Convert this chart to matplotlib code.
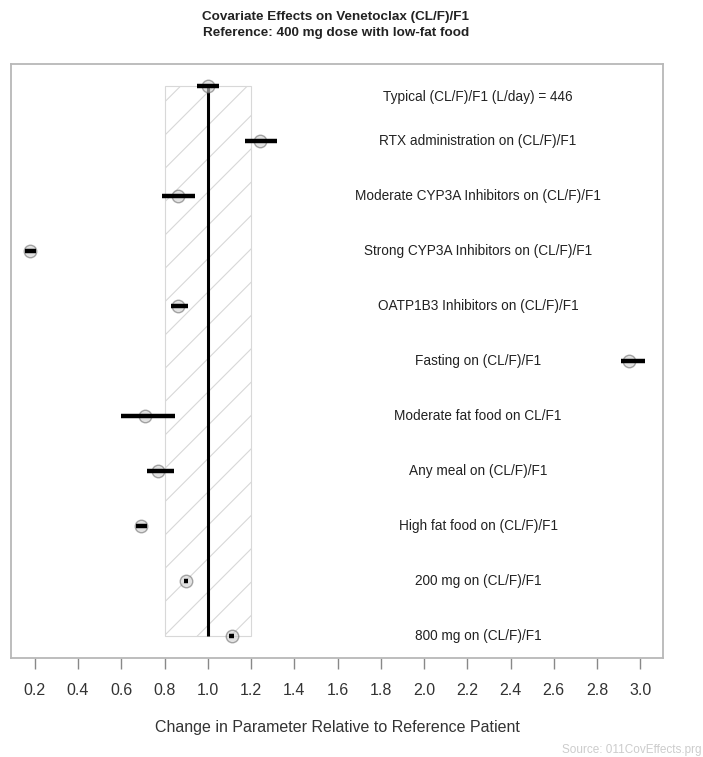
import matplotlib
matplotlib.use("Agg")
import matplotlib.pyplot as plt
from matplotlib.patches import Rectangle

plt.rcParams['font.family'] = ['Liberation Sans', 'DejaVu Sans']
plt.rcParams['hatch.color'] = '#d4d4d4'
plt.rcParams['hatch.linewidth'] = 0.8

labels = [
    "Typical (CL/F)/F1 (L/day) = 446",
    "RTX administration on (CL/F)/F1",
    "Moderate CYP3A Inhibitors on (CL/F)/F1",
    "Strong CYP3A Inhibitors on (CL/F)/F1",
    "OATP1B3 Inhibitors on (CL/F)/F1",
    "Fasting on (CL/F)/F1",
    "Moderate fat food on CL/F1",
    "Any meal on (CL/F)/F1",
    "High fat food on (CL/F)/F1",
    "200 mg on (CL/F)/F1",
    "800 mg on (CL/F)/F1",
]
estimates = [1.00, 1.24, 0.86, 0.18, 0.86, 2.95, 0.71, 0.77, 0.69, 0.90, 1.11]
lower = [0.95, 1.17, 0.79, 0.155, 0.83, 2.91, 0.60, 0.72, 0.67, 0.89, 1.10]
upper = [1.05, 1.32, 0.94, 0.205, 0.91, 3.02, 0.85, 0.845, 0.72, 0.91, 1.12]
ref_low, ref_high = 0.8, 1.2
xticks = [0.2, 0.4, 0.6, 0.8, 1.0, 1.2, 1.4, 1.6, 1.8, 2.0, 2.2, 2.4, 2.6, 2.8, 3.0]

fig = plt.figure(figsize=(7.03, 7.57), dpi=100)
ax = fig.add_axes([11/703, 1 - 658/757, (663 - 11)/703, (658 - 64)/757])

n = len(labels)
rows = list(range(n))

# reference band
ax.add_patch(Rectangle((ref_low, 0), ref_high - ref_low, n - 1,
                       facecolor='none', edgecolor='#d8d8d8', hatch='/',
                       linewidth=0.8, zorder=1))
# reference line
ax.plot([1.0, 1.0], [0, n - 1], color='black', lw=2.2, zorder=2,
        solid_capstyle='butt')

for i in rows:
    ax.plot(estimates[i], i, marker='o', ms=9, mfc='#d0d0d0', mec='#707070',
            mew=1.0, alpha=0.6, zorder=3)
    ax.plot([lower[i], upper[i]], [i, i], color='black', lw=3.2,
            solid_capstyle='butt', zorder=4)
    dy = 0.2 if i == 0 else 0.0
    ax.text(2.25, i + dy, labels[i], ha='center', va='center', fontsize=9.8,
            color='#222222', zorder=5)

ax.set_xlim(0.09, 3.105)
ax.set_ylim(n - 1 + 0.4, -0.4)
ax.set_yticks([])
ax.set_xticks(xticks)
ax.set_xticklabels([f"{t:.1f}" for t in xticks])
ax.tick_params(axis='x', direction='out', length=8, width=1.0, color='#888888',
               labelsize=11.5, labelcolor='#333333', pad=10)
for s in ax.spines.values():
    s.set_color('#b8b8b8')
    s.set_linewidth(1.3)

ax.set_xlabel("Change in Parameter Relative to Reference Patient",
              fontsize=11.5, color='#333333', labelpad=16)

fig.text(336/703, 1 - 17/757, "Covariate Effects on Venetoclax (CL/F)/F1",
         ha='center', va='center', fontsize=9.7, fontweight='bold', color='#222222')
fig.text(336/703, 1 - 33/757, "Reference: 400 mg dose with low-fat food",
         ha='center', va='center', fontsize=9.7, fontweight='bold', color='#222222')
fig.text(701/703, 1 - 750/757, "Source: 011CovEffects.prg", ha='right', va='center',
         fontsize=8.5, color='#cccccc')

fig.savefig("out.png", dpi=100)
